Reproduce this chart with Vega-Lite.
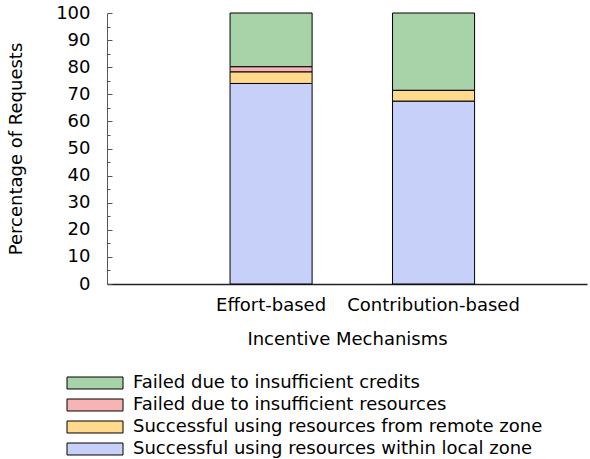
{
  "$schema": "https://vega.github.io/schema/vega-lite/v6.json",
  "width": 480,
  "height": 271,
  "autosize": {"type": "none"},
  "padding": {"left": 107, "top": 13, "right": 3, "bottom": 175},
  "background": "white",
  "config": {
    "font": "DejaVu Sans",
    "view": {"stroke": null},
    "axis": {"labelFont": "DejaVu Sans", "titleFont": "DejaVu Sans", "labelFontSize": 18, "titleFontSize": 18, "titleFontWeight": "normal", "labelColor": "black", "titleColor": "black", "grid": false},
    "legend": {"labelFont": "DejaVu Sans", "labelFontSize": 18, "labelColor": "black"}
  },
  "data": {
    "values": [
      {"mechanism": "Effort-based", "outcome": "Successful using resources within local zone", "pct": 74.0},
      {"mechanism": "Effort-based", "outcome": "Successful using resources from remote zone", "pct": 4.3},
      {"mechanism": "Effort-based", "outcome": "Failed due to insufficient resources", "pct": 1.9},
      {"mechanism": "Effort-based", "outcome": "Failed due to insufficient credits", "pct": 19.8},
      {"mechanism": "Contribution-based", "outcome": "Successful using resources within local zone", "pct": 67.5},
      {"mechanism": "Contribution-based", "outcome": "Successful using resources from remote zone", "pct": 4.0},
      {"mechanism": "Contribution-based", "outcome": "Failed due to insufficient resources", "pct": 0.0},
      {"mechanism": "Contribution-based", "outcome": "Failed due to insufficient credits", "pct": 28.5}
    ]
  },
  "transform": [
    {"calculate": "indexof(['Successful using resources within local zone','Successful using resources from remote zone','Failed due to insufficient resources','Failed due to insufficient credits'], datum.outcome)", "as": "rank"}
  ],
  "resolve": {"axis": {"y": "independent", "x": "independent"}},
  "layer": [
    {
      "mark": {"type": "bar", "stroke": "black", "strokeWidth": 1},
      "encoding": {
        "x": {
          "field": "mechanism", "type": "nominal",
          "sort": ["Effort-based", "Contribution-based"],
          "scale": {"paddingInner": 0.495, "paddingOuter": 0.7246, "align": 0.5226},
          "axis": {"title": "Incentive Mechanisms", "labelAngle": 0, "ticks": false, "labelPadding": 12, "titlePadding": 16, "domainColor": "#222", "domainWidth": 1.5}
        },
        "y": {
          "field": "pct", "type": "quantitative", "stack": "zero",
          "scale": {"domain": [0, 100], "nice": false},
          "axis": {"title": "Percentage of Requests", "values": [0,10,20,30,40,50,60,70,80,90,100], "tickSize": -5, "tickColor": "#555", "domainColor": "#555", "labelPadding": 22, "titlePadding": 30}
        },
        "color": {
          "field": "outcome", "type": "nominal",
          "scale": {
            "domain": ["Failed due to insufficient credits", "Failed due to insufficient resources", "Successful using resources from remote zone", "Successful using resources within local zone"],
            "range": ["#a8d3a8", "#f6b4b4", "#ffd98c", "#c6d0f8"]
          },
          "legend": {
            "title": null, "orient": "none", "legendX": -21, "legendY": 361, "padding": 0,
            "symbolType": "M-4,-0.857h8v1.714h-8z", "symbolSize": 196, "symbolStrokeColor": "black", "symbolStrokeWidth": 1, "symbolOpacity": 1,
            "labelOffset": 29, "rowPadding": 4, "labelLimit": 600
          }
        },
        "order": {"field": "rank", "type": "quantitative"}
      }
    },
    {
      "mark": {"type": "bar", "opacity": 0},
      "encoding": {
        "x": {"field": "mechanism", "type": "nominal", "sort": ["Effort-based", "Contribution-based"], "axis": null},
        "y": {
          "field": "pct", "type": "quantitative", "stack": "zero",
          "axis": {"orient": "left", "title": null, "labels": false, "domain": false, "values": [5,15,25,35,45,55,65,75,85,95], "tickSize": -3, "tickColor": "#555"}
        }
      }
    }
  ]
}
